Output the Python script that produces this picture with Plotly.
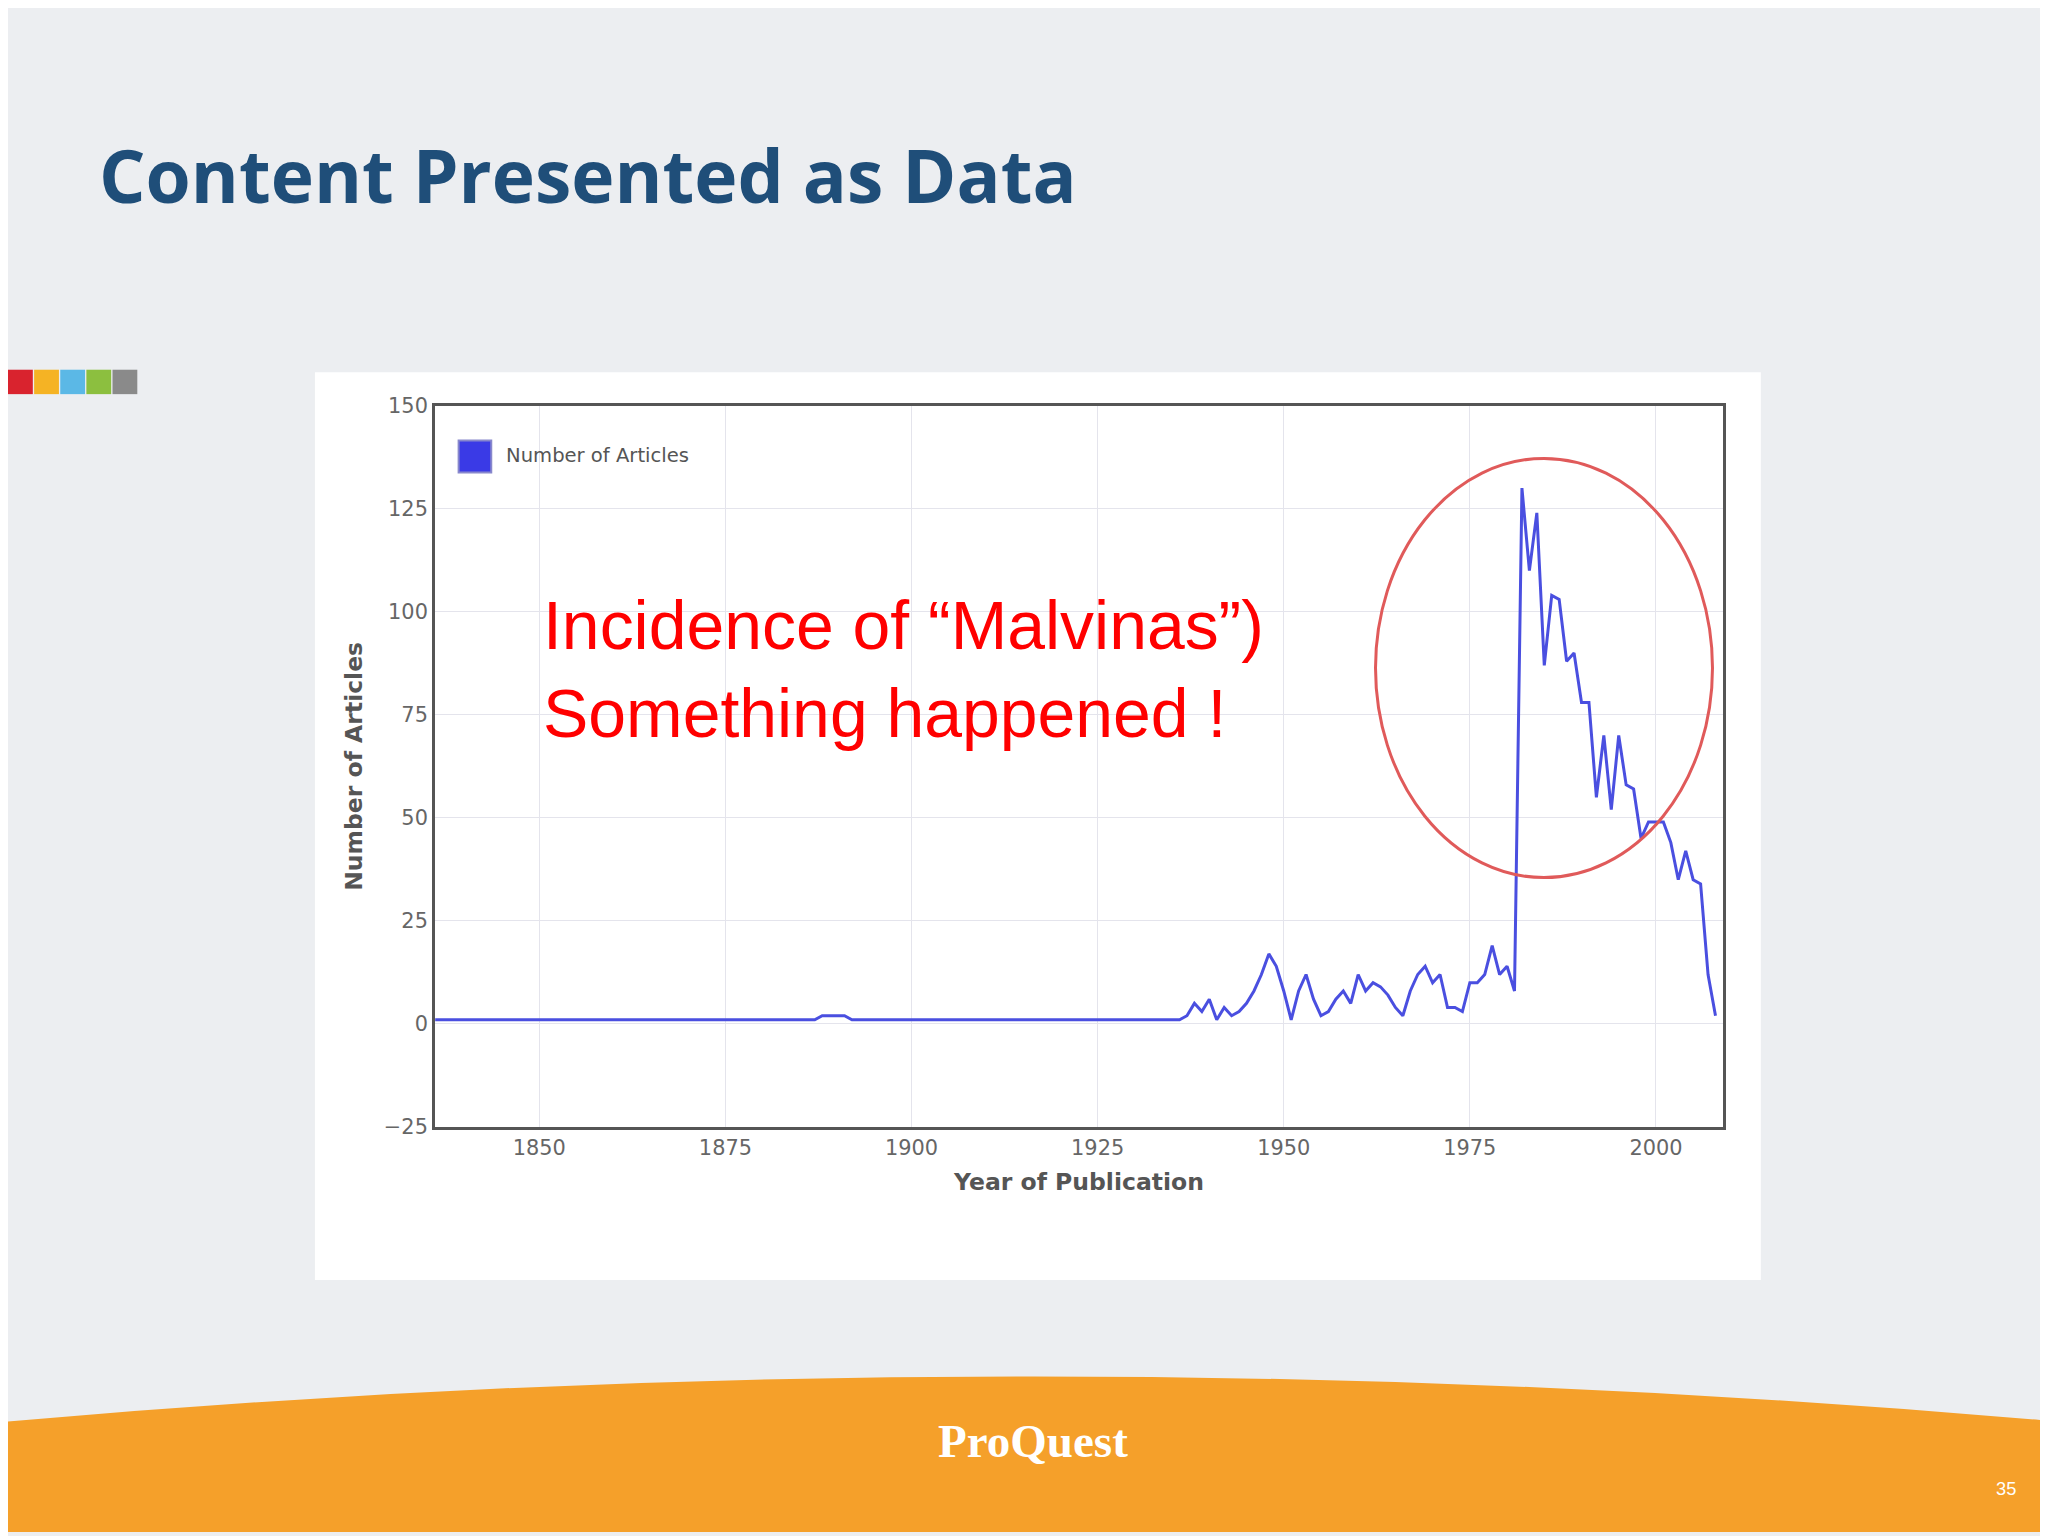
import plotly.graph_objects as go

years = list(range(1836, 2010))
early = [1]*51 + [1,2,2,2,2,1] + [1]*43  # 1836-1935
late_years_vals = [1, 2, 5, 3, 6, 1, 4, 2, 3, 5, 8, 12, 17, 14, 8, 1, 8, 12, 6, 2, 3, 6, 8, 5, 12, 8, 10, 9, 7, 4, 2, 8, 12, 14, 10, 12, 4, 4, 3, 10, 10, 12, 19, 12, 14, 8, 130, 110, 124, 87, 104, 103, 88, 90, 78, 78, 55, 70, 52, 70, 58, 57, 45, 49, 49, 49, 44, 35, 42, 35, 34, 12, 2]
articles = early + late_years_vals
articles = articles[:len(years)]
years = years[:len(articles)]

x_ticks = [1850, 1875, 1900, 1925, 1950, 1975, 2000]
y_ticks = [-25, 0, 25, 50, 75, 100, 125, 150]

W, H = 1568.0, 1176.0
def px(x): return x / W
def py(y): return 1 - y / H
S = 2048 / W

fig = go.Figure()
fig.add_trace(go.Scatter(x=years, y=articles, mode="lines",
                         line=dict(color="#4a4fe0", width=3), name="Number of Articles",
                         showlegend=False))

shapes = []
shapes.append(dict(type="path", xref="paper", yref="paper", layer="below",
                   path=f"M 0 {py(1090)} Q 0.5 {py(1020)} 1 {py(1090)} L 1 0 L 0 0 Z",
                   fillcolor="#f5a02a", line=dict(width=0)))
shapes.append(dict(type="rect", xref="paper", yref="paper", layer="below",
                   x0=px(235), x1=px(1342), y0=py(980), y1=py(274),
                   fillcolor="white", line=dict(width=0)))
for i, c in enumerate(["#d9232e", "#f5b324", "#5bb8e6", "#8cbf3f", "#8a8a8a"]):
    shapes.append(dict(type="rect", xref="paper", yref="paper",
                       x0=px(i*20), x1=px(i*20+19), y0=py(291), y1=py(272),
                       fillcolor=c, line=dict(width=0)))
shapes.append(dict(type="rect", xref="paper", yref="paper",
                   x0=px(345), x1=px(370), y0=py(352), y1=py(327),
                   fillcolor="#3a3ae6", line=dict(color="#8888cc", width=2)))
shapes.append(dict(type="circle", xref="paper", yref="paper",
                   x0=px(1047), x1=px(1305), y0=py(667), y1=py(341),
                   line=dict(color="#e05a5a", width=3)))

ann = [
    dict(text="<b>Content Presented as Data</b>", x=px(68), y=py(120), xanchor="left", yanchor="middle",
         font=dict(size=56*S, color="#1f4e79", family="Open Sans")),
    dict(text="Incidence of “Malvinas”)<br>Something happened !", x=px(408), y=py(505), xanchor="left",
         yanchor="middle", align="left", font=dict(size=52*S, color="#ff0000", family="Liberation Sans")),
    dict(text="Number of Articles", x=px(380), y=py(339), xanchor="left", yanchor="middle",
         font=dict(size=15*S, color="#555", family="DejaVu Sans")),
    dict(text="<b>ProQuest</b>", x=px(785), y=py(1105), xanchor="center", yanchor="middle",
         font=dict(size=36*S, color="white", family="Liberation Serif")),
    dict(text="35", x=px(1530), y=py(1142), xanchor="center", yanchor="middle",
         font=dict(size=14*S, color="white", family="Liberation Sans")),
]
for a in ann:
    a.update(xref="paper", yref="paper", showarrow=False)

fig.update_layout(
    width=2048, height=1536, margin=dict(l=0, r=0, t=0, b=0),
    paper_bgcolor="#eceef1", plot_bgcolor="white",
    shapes=shapes, annotations=ann,
    xaxis=dict(domain=[px(327), px(1313)], range=[1836, 2009], tickvals=x_ticks,
               showgrid=True, gridcolor="#e4e4ec", zeroline=False,
               showline=True, linecolor="#555", linewidth=3, mirror=True,
               tickfont=dict(size=16*S, color="#666", family="DejaVu Sans"),
               title=dict(text="<b>Year of Publication</b>", font=dict(size=18*S, color="#555", family="DejaVu Sans")),
               ticks=""),
    yaxis=dict(domain=[py(861), py(300)], range=[-25, 150], tickvals=y_ticks,
               showgrid=True, gridcolor="#e4e4ec", zeroline=False,
               showline=True, linecolor="#555", linewidth=3, mirror=True,
               tickfont=dict(size=16*S, color="#666", family="DejaVu Sans"),
               title=dict(text="<b>Number of Articles</b>", font=dict(size=18*S, color="#555", family="DejaVu Sans")),
               ticks=""),
)
fig.write_html("out.html")
